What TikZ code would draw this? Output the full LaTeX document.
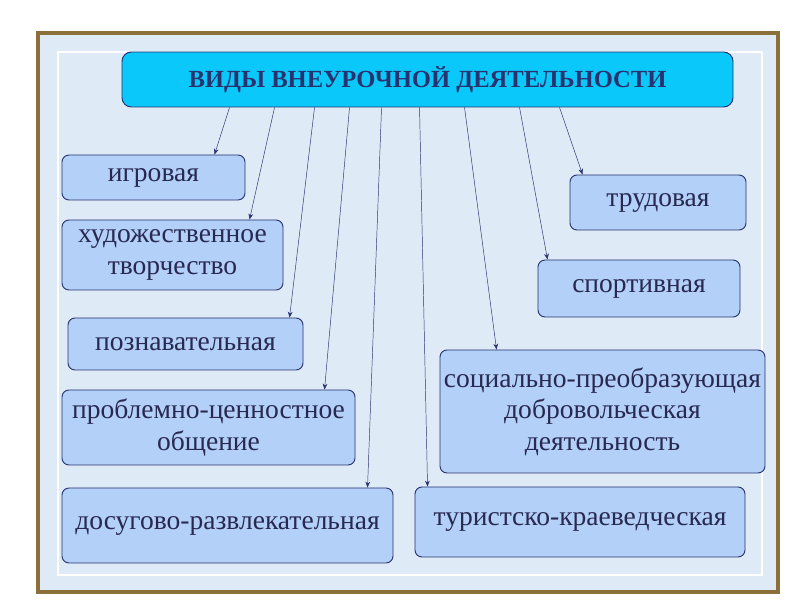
\documentclass[tikz,border=0pt]{standalone}
\usepackage{fontspec}
\setmainfont{Liberation Serif}
\usetikzlibrary{arrows.meta}
\definecolor{frameC}{RGB}{140,112,58}
\definecolor{bgC}{RGB}{222,234,246}
\definecolor{boxC}{RGB}{178,208,248}
\definecolor{titleC}{RGB}{10,200,250}
\definecolor{lineC}{RGB}{40,50,110}
\definecolor{textC}{RGB}{40,40,80}
\begin{document}
\begin{tikzpicture}[x=0.03cm,y=-0.03cm]

    % Styles
    \tikzset{vbox/.style={draw=lineC, thick, fill=boxC, rounded corners=6pt, align=center,
        inner sep=0pt, text=textC, font=\fontsize{23.5}{27}\selectfont}}
    \tikzset{vtitle/.style={vbox, fill=titleC, rounded corners=8pt, font=\fontsize{21}{24}\selectfont\bfseries, text=lineC}}
    \tikzset{varr/.style={draw=lineC, -{Stealth[length=5pt,width=4pt]}}}

    % Background and frame
    \useasboundingbox (0,0) rectangle (800,600);
    \fill[white] (0,0) rectangle (800,600);
    \fill[bgC] (38,33) rectangle (778,592);
    \draw[frameC, line width=4pt] (38,33) rectangle (778,592);
    \draw[white, line width=2.5pt] (58,52) rectangle (762,575);

    % Title
    \node (title) [vtitle, minimum width=611*0.03cm, minimum height=55*0.03cm] at (427.5,79.5)
        {ВИДЫ ВНЕУРОЧНОЙ ДЕЯТЕЛЬНОСТИ};

    % Left column
    \node (igr) [vbox, minimum width=183*0.03cm, minimum height=45*0.03cm] at (153.5,177.5) {игровая};
    \node (hud) [vbox, minimum width=221*0.03cm, minimum height=70*0.03cm] at (172.5,255) {художественное\\творчество};
    \node (poz) [vbox, minimum width=235*0.03cm, minimum height=52*0.03cm] at (185.5,344) {познавательная};
    \node (pro) [vbox, minimum width=293*0.03cm, minimum height=75*0.03cm] at (208.5,427.5) {проблемно-ценностное\\общение};
    \node (dos) [vbox, minimum width=331*0.03cm, minimum height=75*0.03cm] at (227.5,525.5) {досугово-развлекательная};

    % Right column
    \node (tru) [vbox, minimum width=176*0.03cm, minimum height=55*0.03cm] at (658,202.5) {трудовая};
    \node (spo) [vbox, minimum width=202*0.03cm, minimum height=57*0.03cm] at (639,288.5) {спортивная};
    \node (soc) [vbox, minimum width=325*0.03cm, minimum height=123*0.03cm] at (602.5,411.5) {социально-преобразующая\\добровольческая\\деятельность};
    \node (tur) [vbox, minimum width=330*0.03cm, minimum height=70*0.03cm] at (580,522) {туристско-краеведческая};

    % Arrows
    \foreach \sx/\tgt/\ex in {230/igr/153, 275/hud/188, 315/poz/222, 350/pro/263, 382/dos/306,
                              420/tur/13, 465/soc/57, 520/spo/10, 560/tru/13} {
        \coordinate (s-\tgt) at ([xshift=(\sx-122)*0.03cm]title.south west);
        \draw[varr] (s-\tgt) -- ([xshift=\ex*0.03cm]\tgt.north west);
    }

\end{tikzpicture}
\end{document}
